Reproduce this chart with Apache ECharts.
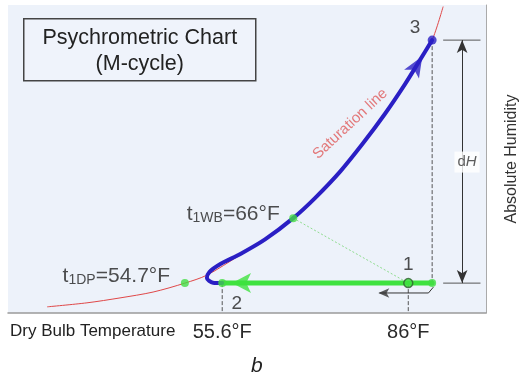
<!DOCTYPE html>
<html>
<head>
<meta charset="utf-8">
<script src="https://cdn.jsdelivr.net/npm/echarts@6/dist/echarts.min.js"></script>
<style>
  html, body { margin: 0; padding: 0; background: #fff; }
  #chart { width: 519px; height: 378px; }
</style>
</head>
<body>
<div id="chart"></div>
<script>
// schematic psychrometric chart, x = dry bulb (°F), y = absolute humidity (relative units 0..100)
const tempTicks = [55.6, 86];

// saturation line
const satT = [27.0, 33.5, 38.9, 44.3, 49.5, 53.1, 58.5, 62.6, 67.2, 70.8, 74.9, 78.6, 82.2, 85.5, 87.9, 89.9, 91.7];
const satH = [2.0, 3.3, 4.9, 6.8, 9.7, 12.3, 18.8, 23.9, 30.8, 37.4, 46.0, 55.1, 64.7, 74.4, 82.1, 88.6, 99.5];

// process 2 -> 3 (blue)
const coolT = [55.6, 54.1, 53.1, 53.5, 55.3, 58.5, 62.6, 67.2, 70.8, 74.9, 78.6, 82.2, 85.5, 87.9, 89.9];
const coolH = [9.7, 9.8, 11.4, 13.3, 15.9, 19.1, 23.9, 30.8, 37.4, 46.0, 55.1, 64.7, 74.4, 82.1, 88.6];

// process 1 -> 2 (green)
const heatT = [89.9, 55.6];
const heatH = [9.7, 9.7];

// wet bulb line t1WB -> 1
const wbT = [67.2, 86];
const wbH = [30.8, 9.7];

// small return arrow under point 1
const backT = [90.1, 89.3, 81.3];
const backH = [8.4, 6.5, 6.5];

// key points
const dpPoint = [49.5, 9.7];
const wbPoint = [67.2, 30.8];
const p1 = [86, 9.7];
const p2 = [55.6, 9.7];
const p3 = [89.9, 88.6];
const dHx = 94.8;
const dHext = [91.7, 97.8];

// arrow tips
const heatTip = [57.2, 9.7];
const coolTip = [88.3, 83.4];
const backTip = [81.1, 6.5];

const zip = (a, b) => a.map((v, i) => [v, b[i]]);
const font = 'Liberation Sans, Arial, sans-serif';

function seg(data, color, width, type) {
  return {
    type: 'line', data: data, symbol: 'none', silent: true, z: 2,
    lineStyle: { color: color, width: width, type: type || 'solid' },
  };
}

function note(value, text, extra) {
  return {
    value: value,
    label: Object.assign({ show: true, position: 'inside', formatter: text, color: '#222', fontSize: 19, fontFamily: font }, extra || {}),
  };
}

const subRich = {
  t: { fontSize: 21, lineHeight: 23, color: '#222' },
  s: { fontSize: 14, verticalAlign: 'bottom', lineHeight: 14, color: '#222' },
};

const chart = echarts.init(document.getElementById('chart'));
chart.setOption({
  animation: false,
  textStyle: { fontFamily: font },
  grid: {
    left: 8, right: 33, top: 5, bottom: 65, outerBoundsMode: 'none',
    show: true, backgroundColor: '#edf2fa', borderWidth: 0,
  },
  xAxis: {
    type: 'value', min: 20.6, max: 98.7,
    axisLine: { show: true, lineStyle: { color: '#9a9a9a', width: 1.5 } },
    axisTick: { show: false },
    splitLine: { show: false },
    axisLabel: {
      customValues: tempTicks,
      formatter: (v) => v + '°F',
      fontSize: 20, color: '#2a2a2a', margin: 9,
    },
  },
  yAxis: {
    type: 'value', min: 0, max: 100, position: 'right',
    axisLine: { show: true, lineStyle: { color: '#aaaaaa', width: 1 } },
    axisTick: { show: false },
    axisLabel: { show: false },
    splitLine: { show: false },
    name: 'Absolute Humidity', nameLocation: 'middle', nameRotate: 90, nameGap: 18,
    nameTextStyle: { fontSize: 16, color: '#333' },
  },
  graphic: [
    {
      type: 'group', left: 23, top: 18,
      children: [
        { type: 'rect', shape: { x: 0, y: 0, width: 232, height: 62 }, style: { fill: '#eff3fb', stroke: '#444', lineWidth: 1.5 } },
        { type: 'text', style: { x: 116, y: 32, text: 'Psychrometric Chart\n(M-cycle)', align: 'center', verticalAlign: 'middle', fontSize: 21.5, lineHeight: 26, fontFamily: font, fill: '#222' } },
      ],
    },
    { type: 'text', left: 10, top: 323, style: { text: 'Dry Bulb Temperature', fontSize: 17, fontFamily: font, fill: '#222' } },
    { type: 'text', left: 251, top: 356, style: { text: 'b', fontSize: 21, fontStyle: 'italic', fontFamily: font, fill: '#222' } },
  ],
  series: [
    Object.assign(seg(zip(satT, satH), '#e04848', 1), { smooth: 0.3 }),
    seg([[p2[0], p2[1]], [p2[0], 0]], '#555', 1, 'dashed'),
    seg([[p1[0], p1[1]], [p1[0], 0]], '#555', 1, 'dashed'),
    seg([[p3[0], p3[1]], [p3[0], heatH[0]]], '#555', 1, 'dashed'),
    seg(zip(wbT, wbH), '#8fdc8f', 1, [2, 2]),
    Object.assign(seg(zip(coolT, coolH), '#2a1fc4', 4), { smooth: 0.3, z: 4, lineStyle: { color: '#2a1fc4', width: 4, cap: 'round' } }),
    Object.assign(seg(zip(heatT, heatH), '#3fe23f', 5), { z: 3, lineStyle: { color: '#3fe23f', width: 5, cap: 'round' } }),
    seg(zip(backT, backH), '#333', 1),
    seg([[dHext[0], p3[1]], [dHext[1], p3[1]]], '#555', 1),
    seg([[dHext[0], heatH[0]], [dHext[1], heatH[0]]], '#555', 1),
    {
      type: 'line', data: [], silent: true,
      markLine: {
        silent: true, symbol: ['arrow', 'arrow'], symbolSize: [8, 13],
        lineStyle: { color: '#333', type: 'solid', width: 1 },
        label: { show: false },
        data: [[{ coord: [dHx, p3[1]] }, { coord: [dHx, heatH[0]] }]],
      },
    },
    // arrow heads (data point = tip)
    { type: 'scatter', silent: true, z: 5, symbol: 'arrow', symbolSize: [15, 19], symbolRotate: 90, itemStyle: { color: '#3fe23f' }, data: [heatTip] },
    { type: 'scatter', silent: true, z: 5, symbol: 'arrow', symbolSize: [13, 21], symbolRotate: -31, itemStyle: { color: '#2a1fc4' }, data: [coolTip] },
    { type: 'scatter', silent: true, z: 5, symbol: 'arrow', symbolSize: [7, 11], symbolRotate: 90, itemStyle: { color: '#333' }, data: [backTip] },
    // points
    { type: 'scatter', silent: true, z: 6, symbolSize: 8, itemStyle: { color: '#44dd44' }, data: [dpPoint, wbPoint, p2, [heatT[0], heatH[0]]] },
    { type: 'scatter', silent: true, z: 6, symbolSize: 9, itemStyle: { color: '#3fe23f', borderColor: '#2f5f2f', borderWidth: 1.5 }, data: [p1] },
    { type: 'scatter', silent: true, z: 6, symbolSize: 9, itemStyle: { color: '#2a1fc4' }, data: [p3] },
    // text annotations
    {
      type: 'scatter', silent: true, z: 7, symbolSize: 0,
      data: [
        note([87.1, 92.5], '3'),
        note([86, 15.6], '1'),
        note([58.0, 3.1], '2'),
        note([57.4, 32.1], '{t|t}{s|1WB}{t|=66°F}', { rich: subRich }),
        note([38.3, 12.0], '{t|t}{s|1DP}{t|=54.7°F}', { rich: subRich }),
        note([76.5, 61.4], 'Saturation line', { rotate: 43, fontSize: 15, color: '#e05a5a' }),
        note([95.6, 49.0], '{d|d}{h|H}', { backgroundColor: '#ffffff', padding: [3, 3], rich: { d: { fontSize: 15, color: '#333' }, h: { fontSize: 15, fontStyle: 'italic', color: '#333' } } }),
      ],
    },
  ],
});
</script>
</body>
</html>
